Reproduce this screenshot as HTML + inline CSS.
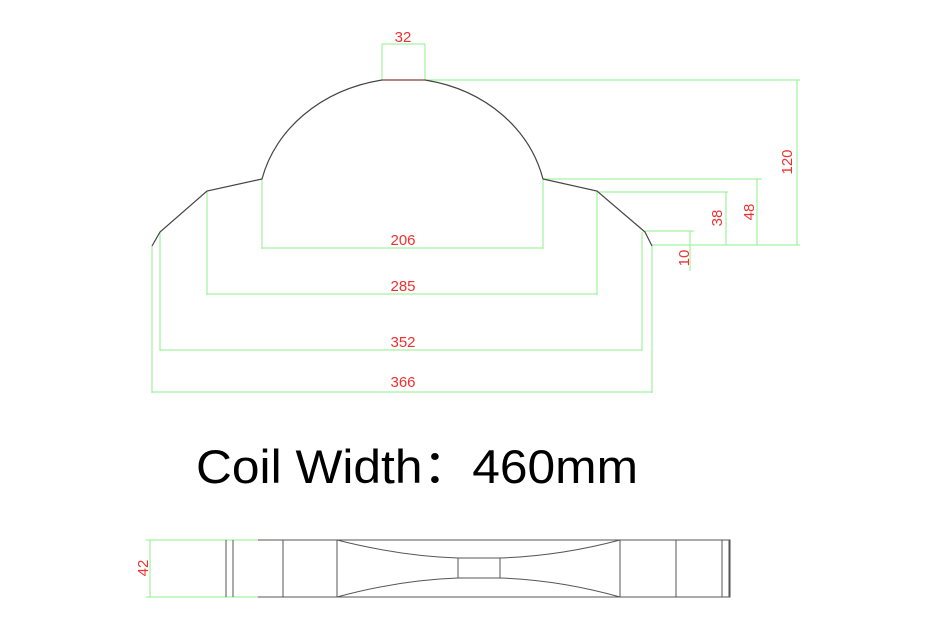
<!DOCTYPE html>
<html><head><style>body{margin:0;background:#fff;width:940px;height:627px;overflow:hidden}</style></head>
<body>
<svg width="940" height="627" xmlns="http://www.w3.org/2000/svg" font-family="Liberation Sans, sans-serif">
<g stroke="#8ef08e" stroke-width="1" fill="none">
<path d="M382 44V80M425 44V80M382 44H425"/>
<path d="M425 80H800M797 80V245M652 245H800"/>
<path d="M543 179H762M757 179V245"/>
<path d="M597 192H728M726 192V245"/>
<path d="M645 231H694M690 231V271"/>
<path d="M262 179V249M543 179V249M262 248H543"/>
<path d="M207 191V295M597 191V295M207 294H597"/>
<path d="M160 232V351M642 232V351M160 350H642"/>
<path d="M152 246V393M652 246V393M152 392H652"/>
<path d="M146 540H258M146 597H258M150 540V597"/>
</g>
<g stroke="#444" stroke-width="1.2" fill="none">
<path d="M382 80H425" stroke="#8a3a3a"/>
<path d="M382 80C320 90 275 130 262 179L207 191L160 232L152 246"/>
<path d="M425 80C487 90 530 130 543 179L597 191L645 232L652 246"/>
</g>
<g stroke="#555" stroke-width="1" fill="none">
<path d="M258 540H730V597H258M226 540V597M233 540V597M283 540V597M337 540V597M620 540V597M676 540V597M722 540V597M729 540V597"/>
<path d="M337 540Q400 556 458 558H500Q560 556 620 540"/>
<path d="M337 597Q400 580 458 578H500Q560 580 620 597"/>
<path d="M458 558V578M500 558V578"/>
</g>
<g fill="#f03030" font-size="15" text-anchor="middle">
<text x="403" y="42">32</text>
<text x="403" y="245">206</text>
<text x="403" y="291">285</text>
<text x="403" y="347">352</text>
<text x="403" y="387">366</text>
<text transform="translate(792,162) rotate(-90)">120</text>
<text transform="translate(754,212) rotate(-90)">48</text>
<text transform="translate(722,218) rotate(-90)">38</text>
<text transform="translate(689,258) rotate(-90)">10</text>
<text transform="translate(148,568) rotate(-90)">42</text>
</g>
<text x="196" y="483" font-size="47" fill="#000" textLength="442" lengthAdjust="spacingAndGlyphs">Coil Width：460mm</text>
</svg>
</body></html>
